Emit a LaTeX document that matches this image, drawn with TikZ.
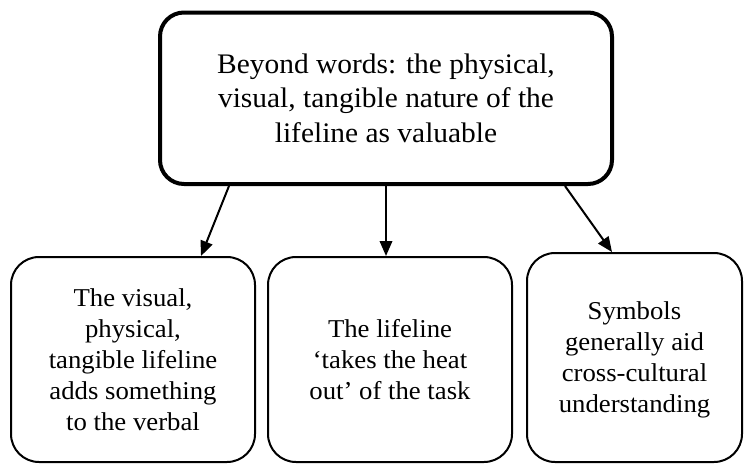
\documentclass[tikz,border=0pt]{standalone}
\usepackage{fontspec}
\setmainfont{Liberation Serif}[FakeStretch=1.04]
\usetikzlibrary{arrows.meta,calc}
\begin{document}
\begin{tikzpicture}[x=1pt,y=-1pt,
  topbox/.style={draw, line width=4pt, rounded corners=24pt, minimum width=452pt, minimum height=171.5pt, align=center, inner sep=0pt, font=\fontsize{28.3}{34.5}\selectfont},
  subbox/.style={draw, line width=2pt, rounded corners=28pt, align=center, inner sep=0pt, font=\fontsize{25.7}{31}\selectfont},
  conn/.style={line width=2pt, -{Triangle[length=15pt,width=12.5pt]}}]
\useasboundingbox (0,0) rectangle (744,464);
\node[topbox] (top) at (386,98.25) {Beyond words: the physical,\\visual, tangible nature of the\\lifeline as valuable};
\node[subbox, minimum width=244pt, minimum height=205pt] (nl) at (133,359.5) {The visual,\\physical,\\tangible lifeline\\adds something\\to the verbal};
\node[subbox, minimum width=244pt, minimum height=205pt] (nm) at (390,359.5) {The lifeline\\‘takes the heat\\out’ of the task};
\node[subbox, minimum width=215pt, minimum height=209pt, text depth=0pt] (nr) at (634.5,357.5) {Symbols\\generally aid\\cross-cultural\\understanding};
\draw[conn] ($(top.south)+(-157,0)$) -- ($(nl.north)+(68,0)$);
\draw[conn] (top.south) -- (top.south |- nm.north);
\draw[conn] ($(top.south)+(179,0)$) -- ($(nr.north)+(-22.5,0)$);
\end{tikzpicture}
\end{document}
